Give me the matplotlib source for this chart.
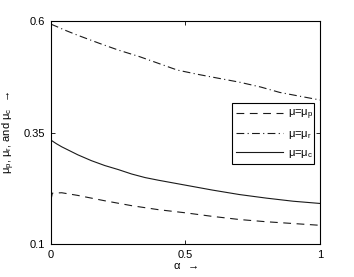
import matplotlib
matplotlib.use("Agg")
import matplotlib.pyplot as plt

plt.rcParams['font.family'] = ['Liberation Sans', 'DejaVu Sans']
plt.rcParams['mathtext.fontset'] = 'custom'
plt.rcParams['mathtext.rm'] = 'Liberation Sans'
plt.rcParams['mathtext.it'] = 'Liberation Sans'

# 数据
alpha_p = [0.0, 0.005, 0.04, 0.1, 0.15, 0.2, 0.3, 0.4, 0.5, 0.6, 0.7, 0.8, 0.9, 1.0]
mu_p = [0.199, 0.214, 0.215, 0.209, 0.203, 0.197, 0.186, 0.177, 0.170, 0.162, 0.155, 0.150, 0.146, 0.142]

alpha_r = [0.0, 0.02, 0.05, 0.1, 0.18, 0.25, 0.33, 0.4, 0.47, 0.55, 0.62, 0.7, 0.78, 0.85, 0.92, 1.0]
mu_r = [0.593, 0.588, 0.580, 0.568, 0.550, 0.535, 0.520, 0.505, 0.490, 0.480, 0.472, 0.463, 0.452,
        0.440, 0.432, 0.423]

alpha_c = [0.0, 0.02, 0.04, 0.07, 0.1, 0.15, 0.2, 0.25, 0.3, 0.35, 0.4, 0.5, 0.6, 0.7, 0.8, 0.9, 1.0]
mu_c = [0.333, 0.325, 0.318, 0.309, 0.300, 0.287, 0.276, 0.267, 0.257, 0.249, 0.243, 0.232, 0.221,
        0.211, 0.203, 0.196, 0.191]

xticks = [0, 0.5, 1]
xticklabels = ['0', '0.5', '1']
yticks = [0.1, 0.35, 0.6]
yticklabels = ['0.1', '0.35', '0.6']

fig = plt.figure(figsize=(3.54, 2.77), dpi=100)
ax = fig.add_axes([0.144, 0.119, 0.760, 0.805])

ax.plot(alpha_p, mu_p, color='#1a1a1a', lw=0.8, ls=(0, (7, 5)), label=r'$\mu$=$\mu_{\rm p}$')
ax.plot(alpha_r, mu_r, color='#1a1a1a', lw=0.8, ls=(0, (7, 3, 1, 3)), label=r'$\mu$=$\mu_{\rm r}$')
ax.plot(alpha_c, mu_c, color='#1a1a1a', lw=0.8, ls='-', label=r'$\mu$=$\mu_{\rm c}$')

ax.set_xlim(0, 1)
ax.set_ylim(0.1, 0.6)
ax.set_xticks(xticks)
ax.set_xticklabels(xticklabels)
ax.set_yticks(yticks)
ax.set_yticklabels(yticklabels)
ax.tick_params(direction='in', length=3, width=0.6, labelsize=8, top=True, right=True, pad=4)
for s in ax.spines.values():
    s.set_linewidth(0.8)

ax.set_xlabel(r'$\alpha$  $\rightarrow$', fontsize=8, labelpad=1)
ax.set_ylabel(r'$\mu_{\rm p}$, $\mu_{\rm r}$, and $\mu_{\rm c}$  $\rightarrow$', fontsize=8, labelpad=5)

leg = ax.legend(loc='lower left', bbox_to_anchor=(0.673, 0.359, 0.305, 0.287), mode='expand',
                fontsize=8, frameon=True, fancybox=False, edgecolor='black', framealpha=1,
                handlelength=4.2, borderaxespad=0, labelspacing=0.6, handletextpad=0.4)
leg.get_frame().set_linewidth(0.8)

fig.savefig('out.png', dpi=100)
